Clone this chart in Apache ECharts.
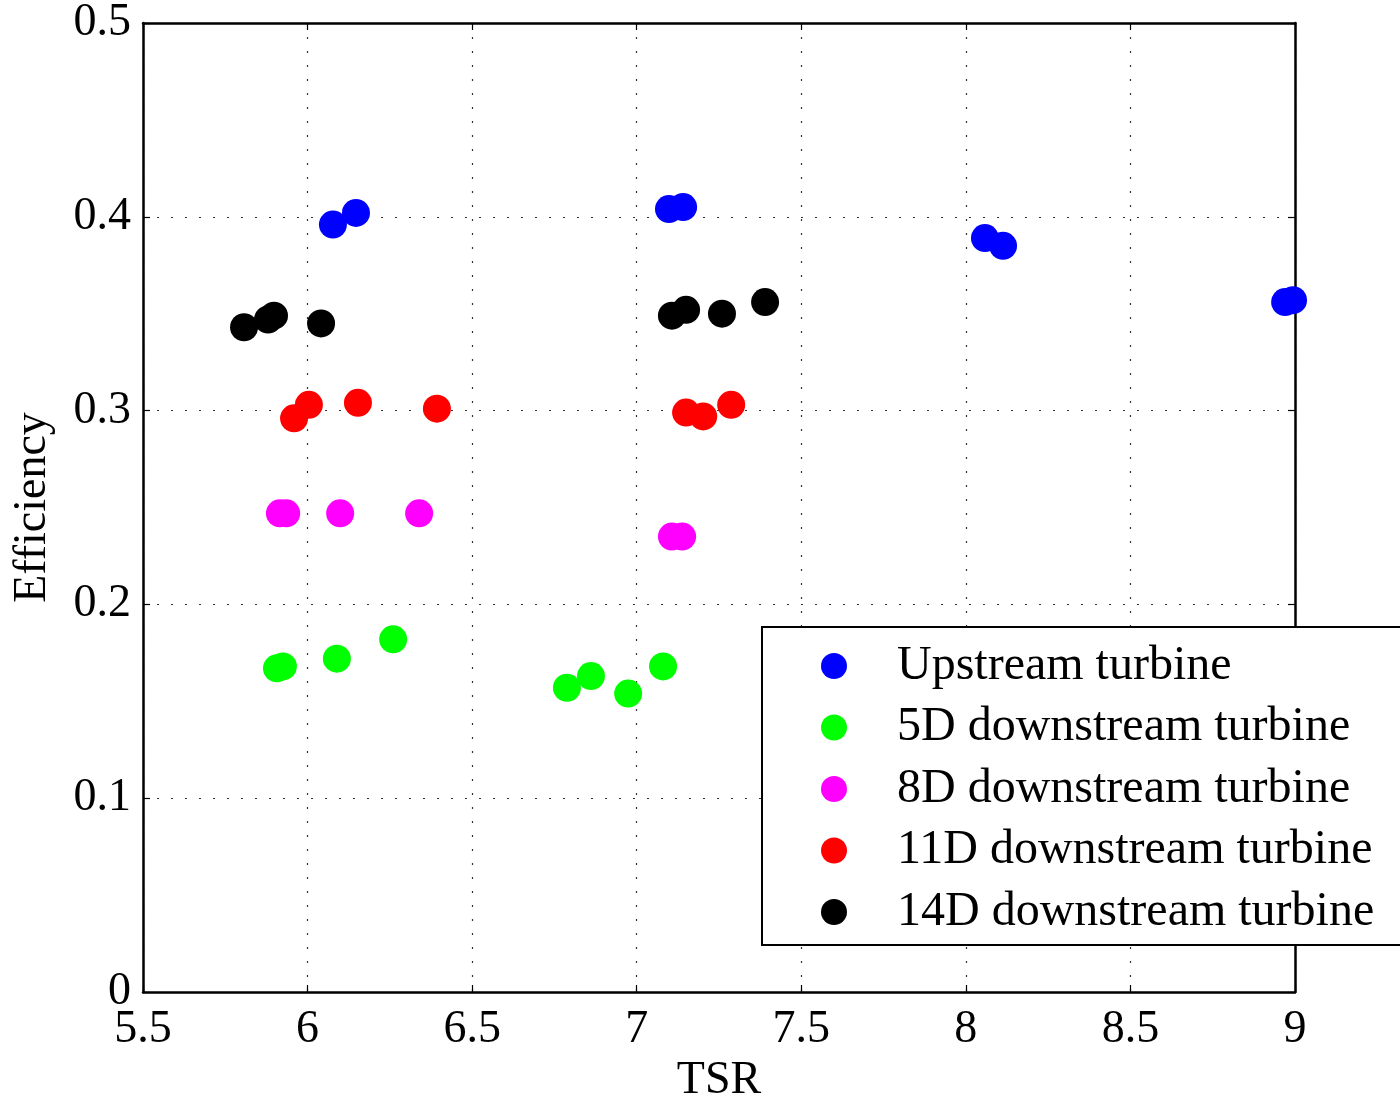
<!DOCTYPE html>
<html>
<head>
<meta charset="utf-8">
<script src="https://cdn.jsdelivr.net/npm/echarts@6/dist/echarts.min.js"></script>
<style>
  html, body { margin: 0; padding: 0; background: #fff; }
  #chart { width: 1400px; height: 1097px; }
</style>
</head>
<body>
<div id="chart"></div>
<script>
// Tip speed ratio (TSR) and efficiency for each turbine position
const seriesNames = [
  'Upstream turbine',
  '5D downstream turbine',
  '8D downstream turbine',
  '11D downstream turbine',
  '14D downstream turbine'
];
const seriesColors = ['#0000ff', '#00ff00', '#ff00ff', '#ff0000', '#000000'];

const upstreamTSR = [6.077, 6.147, 7.098, 7.141, 8.058, 8.113, 8.970, 8.994];
const upstreamEff = [0.396, 0.402, 0.404, 0.405, 0.389, 0.385, 0.356, 0.357];

const d5TSR = [5.907, 5.925, 6.089, 6.260, 6.788, 6.861, 6.974, 7.080];
const d5Eff = [0.167, 0.168, 0.172, 0.182, 0.157, 0.163, 0.154, 0.168];

const d8TSR = [5.916, 5.935, 6.099, 6.339, 7.107, 7.138];
const d8Eff = [0.247, 0.247, 0.247, 0.247, 0.235, 0.235];

const d11TSR = [5.959, 6.004, 6.153, 6.393, 7.150, 7.202, 7.287];
const d11Eff = [0.296, 0.303, 0.304, 0.301, 0.299, 0.297, 0.303];

const d14TSR = [5.807, 5.880, 5.898, 6.041, 7.107, 7.150, 7.259, 7.390];
const d14Eff = [0.343, 0.347, 0.349, 0.345, 0.349, 0.352, 0.350, 0.356];

const xTicks = { min: 5.5, max: 9, interval: 0.5 };
const yTicks = { min: 0, max: 0.5, interval: 0.1 };

const tsrSets = [upstreamTSR, d5TSR, d8TSR, d11TSR, d14TSR];
const effSets = [upstreamEff, d5Eff, d8Eff, d11Eff, d14Eff];

const FONT = '"Liberation Serif", "Times New Roman", serif';

function pairs(xs, ys) {
  return xs.map((x, i) => [x, ys[i]]);
}

const chart = echarts.init(document.getElementById('chart'), null, { renderer: 'canvas' });

const dotted = { color: '#333', width: 1.2, type: [2, 12] };
const frameLine = { show: true, onZero: false, lineStyle: { color: '#000', width: 2.5 } };
const innerTick = { show: true, inside: true, length: 7, lineStyle: { color: '#000', width: 1.2 } };

chart.setOption({
  animation: false,
  backgroundColor: '#fff',
  grid: {
    left: 143, top: 23, right: 105, bottom: 105,
    containLabel: false, outerBoundsMode: 'none'
  },
  xAxis: [
    {
      type: 'value', position: 'bottom',
      min: xTicks.min, max: xTicks.max, interval: xTicks.interval,
      name: 'TSR', nameLocation: 'middle', nameGap: 64,
      nameTextStyle: { fontFamily: FONT, fontSize: 46, color: '#000' },
      axisLine: frameLine, axisTick: innerTick,
      axisLabel: { fontFamily: FONT, fontSize: 46, color: '#000', margin: 15 },
      splitLine: { show: true, lineStyle: dotted }
    },
    {
      type: 'value', position: 'top',
      min: xTicks.min, max: xTicks.max, interval: xTicks.interval,
      axisLine: frameLine, axisTick: innerTick,
      axisLabel: { show: false }, splitLine: { show: false }
    }
  ],
  yAxis: [
    {
      type: 'value', position: 'left',
      min: yTicks.min, max: yTicks.max, interval: yTicks.interval,
      name: 'Efficiency', nameLocation: 'middle', nameGap: 87,
      nameTextStyle: { fontFamily: FONT, fontSize: 46, color: '#000' },
      axisLine: frameLine, axisTick: innerTick,
      axisLabel: { fontFamily: FONT, fontSize: 46, color: '#000', margin: 12 },
      splitLine: { show: true, lineStyle: dotted }
    },
    {
      type: 'value', position: 'right',
      min: yTicks.min, max: yTicks.max, interval: yTicks.interval,
      axisLine: frameLine, axisTick: innerTick,
      axisLabel: { show: false }, splitLine: { show: false }
    }
  ],
  legend: {
    orient: 'vertical',
    left: 762, top: 627,
    icon: 'circle',
    itemWidth: 26, itemHeight: 26, itemGap: 13.5,
    padding: [15, 30, 9, 59],
    backgroundColor: '#fff',
    borderColor: '#000', borderWidth: 2, borderRadius: 0,
    textStyle: {
      fontFamily: FONT, fontSize: 48, color: '#000', lineHeight: 48,
      padding: [0, 0, 0, 45]
    },
    data: seriesNames
  },
  series: seriesNames.map((name, i) => ({
    name: name,
    type: 'scatter',
    xAxisIndex: 0, yAxisIndex: 0,
    symbol: 'circle', symbolSize: 28,
    itemStyle: { color: seriesColors[i], opacity: 1 },
    emphasis: { disabled: true },
    data: pairs(tsrSets[i], effSets[i])
  }))
});
</script>
</body>
</html>
